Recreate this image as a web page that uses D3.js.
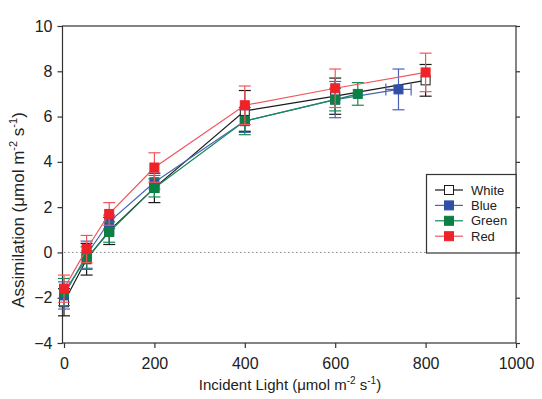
<!DOCTYPE html>
<html><head><meta charset="utf-8">
<script src="https://cdn.jsdelivr.net/npm/d3@7"></script>
<style>body{margin:0;background:#fff}svg{display:block}text{font-family:"Liberation Sans",Arial,sans-serif}</style>
</head><body><svg id="c" width="542" height="399"></svg>
<script>
const seriesNames = ["White","Blue","Green","Red"];
const whiteX = [0,50,100,200,400,600,800];
const whiteY = [-2.2,-0.3,0.95,2.85,6.25,6.9,7.6];
const whiteErr = [0.6,0.7,0.6,0.65,0.9,0.8,0.7];
const blueX = [0,50,100,200,400,600,740];
const blueY = [-1.9,-0.1,1.35,3.1,5.8,6.75,7.2];
const blueErr = [0.6,0.6,0.3,0.3,0.5,0.8,0.9];
const blueXErr = [0,0,0,0,0,0,28];
const greenX = [0,50,100,200,400,600,650];
const greenY = [-1.75,-0.25,0.9,2.85,5.8,6.75,7.0];
const greenErr = [0.6,0.5,0.45,0.4,0.6,0.5,0.5];
const redX = [0,50,100,200,400,600,800];
const redY = [-1.6,0.15,1.7,3.75,6.5,7.25,7.95];
const redErr = [0.6,0.6,0.5,0.65,0.85,0.85,0.85];
const xTicks = [0,200,400,600,800,1000];
const yTicks = [-4,-2,0,2,4,6,8,10];

const series = [
  {name:"White", x:whiteX, y:whiteY, e:whiteErr, xe:null, stroke:"#1a1a1a", line:"#1a1a1a", fill:"#fff", mstroke:"#1a1a1a"},
  {name:"Blue", x:blueX, y:blueY, e:blueErr, xe:blueXErr, stroke:"#4a63b5", line:"#4a63b5", fill:"#3050a8", mstroke:"#3050a8"},
  {name:"Green", x:greenX, y:greenY, e:greenErr, xe:null, stroke:"#138a55", line:"#138a55", fill:"#0a8045", mstroke:"#0a8045"},
  {name:"Red", x:redX, y:redY, e:redErr, xe:null, stroke:"#f0575c", line:"#f0575c", fill:"#ee2229", mstroke:"#ee2229"}
];

const svg = d3.select("#c");
const L=64, R=516, T=26, B=343;
const x = d3.scaleLinear().domain([0,1000]).range([L,R]);
const y = d3.scaleLinear().domain([-4,10]).range([B,T]);

svg.append("line").attr("x1",x(0)).attr("x2",x(1000)).attr("y1",y(0)).attr("y2",y(0))
  .attr("stroke","#888").attr("stroke-width",1).attr("stroke-dasharray","1.5,2.5");

svg.append("rect").attr("x",L-1.5).attr("y",T).attr("width",R-L+1.5).attr("height",B-T)
  .attr("fill","none").attr("stroke","#333").attr("stroke-width",1.2);

const fs = "16px";
const xa = svg.append("g").attr("transform",`translate(0,${B})`)
  .call(d3.axisBottom(x).tickValues(xTicks).tickSize(5).tickPadding(10).tickFormat(d3.format("d")));
const ya = svg.append("g").attr("transform",`translate(${L-1.5},0)`)
  .call(d3.axisLeft(y).tickValues(yTicks).tickSize(5).tickPadding(5).tickFormat(d3.format("d")));
const ra = svg.append("g").attr("transform",`translate(${R},0)`)
  .call(d3.axisRight(y).tickValues(yTicks).tickSize(4).tickFormat(""));
[xa,ya,ra].forEach(a=>{
  a.select(".domain").remove();
  a.selectAll("line").attr("stroke","#333").attr("stroke-width",1.2);
  a.selectAll("text").attr("font-size",fs).attr("fill","#222").style("font-family","'Liberation Sans',Arial,sans-serif");
});

series.forEach(s=>{
  const pts = s.x.map((v,i)=>({x:v,y:s.y[i],e:s.e[i],xe:s.xe?s.xe[i]:0}));
  const g = svg.append("g");
  g.append("path").datum(pts).attr("fill","none").attr("stroke",s.line).attr("stroke-width",1.2)
    .attr("d",d3.line().x(d=>x(d.x)).y(d=>y(d.y)));
  const cw=6;
  pts.forEach(d=>{
    const cx=x(d.x);
    g.append("line").attr("x1",cx).attr("x2",cx).attr("y1",y(d.y-d.e)).attr("y2",y(d.y+d.e)).attr("stroke",s.stroke).attr("stroke-width",1.2);
    [d.y-d.e,d.y+d.e].forEach(v=>g.append("line").attr("x1",cx-cw).attr("x2",cx+cw).attr("y1",y(v)).attr("y2",y(v)).attr("stroke",s.stroke).attr("stroke-width",1.2));
    if(d.xe){
      const cy=y(d.y);
      g.append("line").attr("x1",x(d.x-d.xe)).attr("x2",x(d.x+d.xe)).attr("y1",cy).attr("y2",cy).attr("stroke",s.stroke).attr("stroke-width",1.2);
      [d.x-d.xe,d.x+d.xe].forEach(v=>g.append("line").attr("x1",x(v)).attr("x2",x(v)).attr("y1",cy-cw).attr("y2",cy+cw).attr("stroke",s.stroke).attr("stroke-width",1.2));
    }
  });
  g.selectAll("rect").data(pts).join("rect")
    .attr("x",d=>x(d.x)-4.5).attr("y",d=>y(d.y)-4.5).attr("width",9).attr("height",9)
    .attr("fill",s.fill).attr("stroke",s.mstroke).attr("stroke-width",1);
});

const lg = svg.append("g");
lg.append("rect").attr("x",426.5).attr("y",174.5).attr("width",R-426.5).attr("height",78.5)
  .attr("fill","#fff").attr("stroke","#333").attr("stroke-width",1.2);
series.forEach((s,i)=>{
  const cy = 190 + i*15.4;
  lg.append("line").attr("x1",435).attr("x2",463).attr("y1",cy).attr("y2",cy).attr("stroke",s.line).attr("stroke-width",1.2);
  lg.append("rect").attr("x",449-4.5).attr("y",cy-4.5).attr("width",9).attr("height",9).attr("fill",s.fill).attr("stroke",s.mstroke);
  lg.append("text").attr("x",471).attr("y",cy+4.5).attr("font-size","13px").attr("fill","#222").text(s.name);
});

const xt = svg.append("text").attr("x",290).attr("y",390).attr("text-anchor","middle").attr("font-size","15px").attr("fill","#222");
xt.append("tspan").text("Incident Light (\u03bcmol m");
xt.append("tspan").attr("dy",-6).attr("font-size","10px").text("-2");
xt.append("tspan").attr("dy",6).text(" s");
xt.append("tspan").attr("dy",-6).attr("font-size","10px").text("-1");
xt.append("tspan").attr("dy",6).text(")");

const yt = svg.append("text").attr("transform","translate(24,210) rotate(-90)").attr("text-anchor","middle").attr("font-size","17px").attr("fill","#222");
yt.append("tspan").text("Assimilation (\u03bcmol m");
yt.append("tspan").attr("dy",-7).attr("font-size","11px").text("-2");
yt.append("tspan").attr("dy",7).text(" s");
yt.append("tspan").attr("dy",-7).attr("font-size","11px").text("-1");
yt.append("tspan").attr("dy",7).text(")");
</script></body></html>
